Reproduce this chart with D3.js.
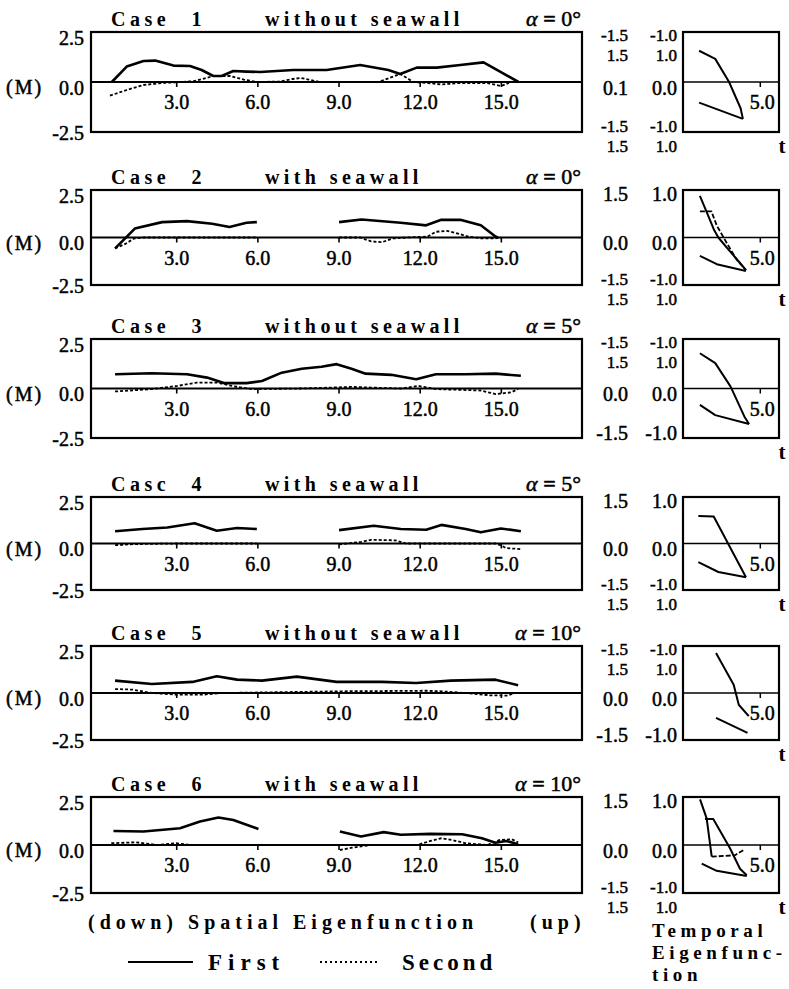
<!DOCTYPE html>
<html>
<head>
<meta charset="utf-8">
<script src="https://cdn.jsdelivr.net/npm/d3@7"></script>
<style>
body { margin: 0; background: #fff; }
svg { display: block; }
</style>
</head>
<body>
<svg id="fig" width="789" height="989"></svg>
<script>
// ---- data ----
var caseNames = ["Case 1", "Case 2", "Case 3", "Casc 4", "Case 5", "Case 6"];
var wallLabels = ["without seawall", "with seawall", "without seawall", "with seawall", "without seawall", "with seawall"];
var alphaLabels = ["0°", "0°", "5°", "5°", "10°", "10°"];
var spatialTicks = [3, 6, 9, 12, 15];
var leftTicks = [2.5, 0, -2.5];
var temporalTicks = [5];

// odd right-hand scale labels as printed (top / middle / bottom)
var spatialTopLabels = [["-1.5", "1.5"], ["1.5"], ["-1.5", "1.5"], ["1.5"], ["-1.5", "1.5"], ["1.5"]];
var spatialMidLabels = ["0.1", "0.0", "0.0", "0.0", "0.0", "0.0"];
var spatialBottomLabels = [["-1.5", "1.5"], ["-1.5", "1.5"], ["-1.5"], ["-1.5", "1.5"], ["-1.5"], ["-1.5", "1.5"]];
var temporalTopLabels = [["-1.0", "1.0"], ["1.0"], ["-1.0", "1.0"], ["1.0"], ["-1.0", "1.0"], ["1.0"]];
var temporalMidLabels = ["0.0", "0.0", "0.0", "0.0", "0.0", "0.0"];
var temporalBottomLabels = [["-1.0", "1.0"], ["-1.0", "1.0"], ["-1.0"], ["-1.0", "1.0"], ["-1.0"], ["-1.0", "1.0"]];

// spatial eigenfunctions [x, value(M)], null = gap
var spatialFirst = [
  [[0.62,0],[1.17,0.77],[1.79,1.05],[2.22,1.07],[2.9,0.82],[3.51,0.8],[3.94,0.6],[4.37,0.3],[4.68,0.3],[5.11,0.55],[5.6,0.52],[6.1,0.5],[7.33,0.6],[8.56,0.6],[9.8,0.85],[10.84,0.6],[11.28,0.4],[11.89,0.72],[12.63,0.72],[13.5,0.85],[14.36,0.98],[14.97,0.52],[15.65,0]],
  [[0.74,-0.57],[1.0,-0.2],[1.47,0.47],[2.48,0.81],[3.4,0.86],[4.33,0.72],[4.97,0.55],[5.6,0.78],[5.98,0.81],null,[9.02,0.81],[9.85,0.95],[11.3,0.78],[12.24,0.64],[12.8,0.93],[13.5,0.93],[14.26,0.64],[14.8,0.05],[14.9,0]],
  [[0.74,0.72],[2.1,0.77],[3.4,0.72],[4.14,0.55],[4.79,0.27],[5.6,0.27],[6.17,0.38],[6.9,0.8],[7.64,1.0],[8.37,1.1],[8.93,1.23],[9.48,1.0],[10.0,0.75],[10.95,0.69],[11.87,0.47],[12.6,0.72],[13.7,0.72],[14.8,0.75],[15.74,0.64]],
  [[0.74,0.66],[1.75,0.78],[2.67,0.86],[3.68,1.09],[4.5,0.69],[5.25,0.83],[5.98,0.78],null,[9.02,0.72],[10.3,0.95],[11.3,0.78],[12.24,0.74],[12.8,1.0],[13.7,0.78],[14.26,0.6],[15.0,0.81],[15.74,0.66]],
  [[0.74,0.66],[2.1,0.48],[3.6,0.59],[4.5,0.89],[5.25,0.71],[6.17,0.66],[7.46,0.87],[8.93,0.59],[10.6,0.59],[11.87,0.53],[13.15,0.66],[14.8,0.71],[15.64,0.41]],
  [[0.68,0.73],[1.79,0.7],[3.14,0.87],[3.88,1.22],[4.56,1.43],[5.11,1.3],[6.04,0.83],null,[9.05,0.7],[9.83,0.44],[10.67,0.67],[11.3,0.53],[12.4,0.58],[13.57,0.56],[14.3,0.35],[14.8,0.12],[15.2,0.21],[15.64,0.04]]
];
var spatialSecond = [
  [[0.55,-0.68],[1.17,-0.4],[1.79,-0.15],[2.5,-0.05],[3.2,0],[3.7,0.05],[4.37,0.3],[5.0,0.3],[5.5,0.12],[6.0,0],[6.8,0.02],[7.3,0.15],[7.6,0.2],[7.9,0.12],[8.3,0],[9.5,0],[10.47,0],[11.28,0.4],[11.77,0],[12.3,-0.05],[12.8,-0.12],[13.5,-0.05],[14.5,-0.05],[15.0,-0.2],[15.3,-0.05]],
  [[0.74,-0.57],[1.1,-0.35],[1.45,-0.05],[1.8,0],[3.0,0],[6.0,0],null,[9.02,0],[9.8,0],[10.2,-0.2],[10.6,-0.25],[11.0,-0.05],[11.5,0],[12.3,0.05],[12.6,0.3],[13.0,0.35],[13.3,0.25],[13.8,0.05],[14.3,-0.05],[14.8,-0.05],[15.0,0]],
  [[0.74,-0.15],[2.1,-0.03],[3.04,0.13],[3.77,0.3],[4.5,0.3],[5.06,0.13],[5.8,-0.03],[7.6,0],[9.48,0.08],[11.3,0],[11.95,0.13],[12.6,-0.03],[14.26,-0.1],[14.8,-0.28],[15.37,-0.2],[15.64,-0.03]],
  [[0.74,-0.09],[1.5,-0.03],[3.0,0],[5.98,0],null,[9.02,-0.05],[9.85,0.09],[10.2,0.2],[11.1,0.17],[11.5,0],[13.0,0],[14.8,0],[15.0,-0.1],[15.2,-0.25],[15.74,-0.3]],
  [[0.74,0.21],[1.38,0.18],[2.1,0],[3.04,-0.09],[3.96,-0.09],[4.7,0],[9.1,0.09],[12.24,0.12],[12.8,0.09],[13.7,0],[14.6,-0.12],[15.2,-0.14],[15.55,0]],
  [[0.6,0.09],[1.5,0.14],[2.3,0],[3.0,0.09],[3.5,0],[6.0,0],null,[9.05,-0.26],[9.5,-0.14],[10.2,0],[11.9,0],[12.4,0.21],[12.8,0.35],[13.2,0.26],[13.7,0.09],[14.5,0],[14.95,0.26],[15.4,0.3],[15.64,0.14]]
];

// temporal eigenfunctions [t, value], solid and dashed polylines per case
var temporalSolid = [
  [[[1.05,1.0],[2.1,0.74],[3.0,0],[3.75,-0.84],[3.9,-1.18]], [[1.05,-0.66],[3.9,-1.18]]],
  [[[1.1,1.4],[1.55,0.85],[2.0,0.28],[2.3,0],[2.95,-0.4],[3.7,-0.85],[4.1,-1.1]], [[1.1,-0.62],[2.2,-0.9],[4.1,-1.13]]],
  [[[1.1,1.14],[2.1,0.82],[3.1,0.06],[4.0,-0.91],[4.3,-1.15]], [[1.1,-0.53],[2.1,-0.86],[4.3,-1.15]]],
  [[[1.0,0.95],[2.0,0.93],[4.1,-1.16]], [[1.0,-0.64],[2.3,-0.98],[4.1,-1.16]]],
  [[[2.15,1.36],[3.3,0.28],[3.63,-0.4],[4.28,-0.79]], [[2.15,-0.85],[4.2,-1.36]]],
  [[[1.11,1.52],[1.54,0.89],[1.87,-0.39]], [[1.43,0.87],[1.97,0.87],[3.06,-0.11],[3.71,-0.79],[4.15,-1.01]], [[1.22,-0.62],[2.19,-0.86],[4.15,-1.03]]]
];
var temporalDashed = [
  [],
  [[[1.1,0.88],[1.85,0.88],[2.2,0.4],[2.9,-0.23],[3.5,-0.75],[4.1,-1.1]]],
  [],
  [],
  [],
  [[[1.87,-0.39],[3.39,-0.34],[3.93,-0.17]]]
];

// ---- layout ----
var panelTop = [32, 190, 339, 497, 646, 797];
var panelBottom = [132, 285, 438, 590, 740, 893];
var serif = "'Liberation Serif', 'Times New Roman', serif";
var numSize = 20;
var stackSize = 17;   // the doubled labels printed on top of each other

var svg = d3.select("#fig").attr("font-family", serif);

var xScale = d3.scaleLinear().domain([-0.15, 18]).range([91, 582]);
var tScale = d3.scaleLinear().domain([0, 6.25]).range([683, 779]);

var fmt = d => d.toFixed(1);

// heavy print look for numbers
function ink(sel) {
    sel.attr("stroke", "#000").attr("stroke-width", 0.5);
}

function labelText(g, x, cy, txt, size) {
    size = size || numSize;
    g.append("text")
        .attr("x", x)
        .attr("y", cy + size * 0.33)
        .attr("text-anchor", "end")
        .attr("font-size", size)
        .text(txt)
        .call(ink);
}

// top / middle / bottom labels at the right of a frame
function sideLabels(g, x, top, zero, bottom, topL, midL, botL) {
    if (topL.length == 2) {
        labelText(g, x, top + 3, topL[0], stackSize);
        labelText(g, x, top + 23, topL[1], stackSize);
    } else {
        labelText(g, x, top + 4, topL[0]);
    }
    labelText(g, x, zero + 6, midL);
    if (botL.length == 2) {
        labelText(g, x, bottom - 6, botL[0], stackSize);
        labelText(g, x, bottom + 14, botL[1], stackSize);
    } else {
        labelText(g, x, bottom - 5, botL[0]);
    }
}

caseNames.forEach(function (name, i) {
    var top = panelTop[i], bottom = panelBottom[i];
    var yScale = d3.scaleLinear().domain([-2.5, 2.5]).range([bottom, top]);
    var vScale = d3.scaleLinear().domain([-1.6, 1.6]).range([bottom, top]);
    var zero = yScale(0);
    var g = svg.append("g");

    // titles
    g.append("text")
        .attr("x", 111).attr("y", top - 6)
        .attr("font-size", 20).attr("font-weight", "bold")
        .attr("letter-spacing", 4.5).attr("word-spacing", 12)
        .text(name);
    g.append("text")
        .attr("x", 265).attr("y", top - 6)
        .attr("font-size", 20).attr("font-weight", "bold")
        .attr("letter-spacing", 4.4)
        .text(wallLabels[i]);
    var at = g.append("text")
        .attr("x", 581).attr("y", top - 6)
        .attr("text-anchor", "end")
        .attr("font-size", 22);
    at.append("tspan").attr("font-style", "italic").text("α");
    at.append("tspan").attr("font-weight", "bold").text(" = ");
    at.append("tspan").text(alphaLabels[i]);
    at.call(ink);

    // spatial frame
    g.append("rect")
        .attr("x", xScale.range()[0]).attr("y", top)
        .attr("width", xScale.range()[1] - xScale.range()[0])
        .attr("height", bottom - top)
        .attr("fill", "none").attr("stroke", "#000").attr("stroke-width", 2.2);
    g.append("line")
        .attr("x1", xScale.range()[0]).attr("x2", xScale.range()[1])
        .attr("y1", zero).attr("y2", zero)
        .attr("stroke", "#000").attr("stroke-width", 1.8);

    var xAxisG = g.append("g")
        .attr("transform", "translate(0," + zero + ")")
        .call(d3.axisBottom(xScale).tickValues(spatialTicks).tickSize(5).tickPadding(8).tickFormat(fmt));
    xAxisG.select(".domain").remove();
    xAxisG.attr("font-family", serif).attr("font-size", numSize);
    xAxisG.selectAll("line").attr("stroke-width", 1.6);
    xAxisG.selectAll("text").call(ink);

    var yAxisG = g.append("g")
        .attr("transform", "translate(" + xScale.range()[0] + ",0)")
        .call(d3.axisLeft(yScale).tickValues(leftTicks).tickSize(0).tickPadding(7).tickFormat(fmt));
    yAxisG.select(".domain").remove();
    yAxisG.attr("font-family", serif).attr("font-size", numSize);
    yAxisG.selectAll("text").attr("dy", d => d < 0 ? "0.38em" : "0.6em").call(ink);
    g.append("text")
        .attr("x", 6).attr("y", zero + 12)
        .attr("font-size", numSize).attr("letter-spacing", 2)
        .text("(M)")
        .call(ink);

    // spatial curves
    var sLine = d3.line().defined(d => d != null).x(d => xScale(d[0])).y(d => yScale(d[1]));
    g.append("path")
        .datum(spatialSecond[i])
        .attr("d", sLine)
        .attr("fill", "none").attr("stroke", "#000")
        .attr("stroke-width", 1.8).attr("stroke-dasharray", "3,2");
    g.append("path")
        .datum(spatialFirst[i])
        .attr("d", sLine)
        .attr("fill", "none").attr("stroke", "#000")
        .attr("stroke-width", 2.6).attr("stroke-linejoin", "round");

    sideLabels(g, 628, top, zero, bottom, spatialTopLabels[i], spatialMidLabels[i], spatialBottomLabels[i]);

    // temporal frame
    g.append("rect")
        .attr("x", tScale.range()[0]).attr("y", top)
        .attr("width", tScale.range()[1] - tScale.range()[0])
        .attr("height", bottom - top)
        .attr("fill", "none").attr("stroke", "#000").attr("stroke-width", 2.2);
    g.append("line")
        .attr("x1", tScale.range()[0]).attr("x2", tScale.range()[1])
        .attr("y1", vScale(0)).attr("y2", vScale(0))
        .attr("stroke", "#000").attr("stroke-width", 1.5);

    var tAxisG = g.append("g")
        .attr("transform", "translate(0," + vScale(0) + ")")
        .call(d3.axisBottom(tScale).tickValues(temporalTicks).tickSize(5).tickPadding(8).tickFormat(fmt));
    tAxisG.select(".domain").remove();
    tAxisG.attr("font-family", serif).attr("font-size", numSize);
    tAxisG.selectAll("line").attr("stroke-width", 1.5);
    tAxisG.selectAll("text").attr("dx", 2).call(ink);

    sideLabels(g, 677, top, vScale(0), bottom, temporalTopLabels[i], temporalMidLabels[i], temporalBottomLabels[i]);

    g.append("text")
        .attr("x", 782).attr("y", bottom + 21)
        .attr("text-anchor", "middle")
        .attr("font-size", 21).attr("font-weight", "bold")
        .text("t");

    var tLine = d3.line().x(d => tScale(d[0])).y(d => vScale(d[1]));
    g.selectAll(".tsolid")
        .data(temporalSolid[i])
        .enter()
        .append("path")
        .attr("d", tLine)
        .attr("fill", "none").attr("stroke", "#000")
        .attr("stroke-width", 2).attr("stroke-linejoin", "round");
    g.selectAll(".tdash")
        .data(temporalDashed[i])
        .enter()
        .append("path")
        .attr("d", tLine)
        .attr("fill", "none").attr("stroke", "#000")
        .attr("stroke-width", 1.8).attr("stroke-dasharray", "5,2");
});

// ---- bottom captions ----
svg.append("text")
    .attr("x", 88).attr("y", 929)
    .attr("font-size", 20).attr("font-weight", "bold")
    .attr("letter-spacing", 5)
    .text("(down) Spatial Eigenfunction");
svg.append("text")
    .attr("x", 530).attr("y", 929)
    .attr("font-size", 20).attr("font-weight", "bold")
    .attr("letter-spacing", 5)
    .text("(up)");

svg.append("line")
    .attr("x1", 128).attr("x2", 193).attr("y1", 962).attr("y2", 962)
    .attr("stroke", "#000").attr("stroke-width", 2.2);
svg.append("text")
    .attr("x", 208).attr("y", 970)
    .attr("font-size", 23).attr("font-weight", "bold")
    .attr("letter-spacing", 6)
    .text("First");
svg.append("line")
    .attr("x1", 320).attr("x2", 378).attr("y1", 962).attr("y2", 962)
    .attr("stroke", "#000").attr("stroke-width", 2.2).attr("stroke-dasharray", "2,3");
svg.append("text")
    .attr("x", 402).attr("y", 970)
    .attr("font-size", 23).attr("font-weight", "bold")
    .attr("letter-spacing", 4)
    .text("Second");

["Temporal", "Eigenfunc-", "tion"].forEach(function (s, k) {
    svg.append("text")
        .attr("x", 652).attr("y", 937 + k * 22)
        .attr("font-size", 19).attr("font-weight", "bold")
        .attr("letter-spacing", 4.6)
        .text(s);
});
</script>
</body>
</html>
